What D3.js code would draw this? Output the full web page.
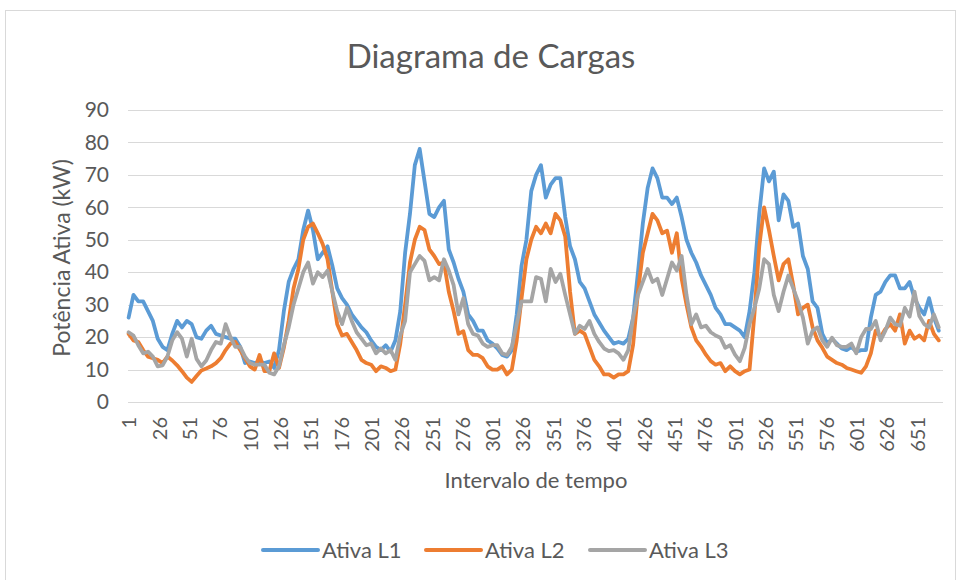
<!DOCTYPE html>
<html><head><meta charset="utf-8">
<script src="https://cdn.jsdelivr.net/npm/d3@7"></script>
<style>
body{margin:0;background:#fff;}
svg{display:block;font-family:Lato, "Open Sans", sans-serif;}
</style></head>
<body><svg id="c" width="960" height="580"></svg>
<script>
// Data: active power (kW) per phase, read every 4th 15-min interval (1,5,9,...)
const seriesNames = ["Ativa L1", "Ativa L2", "Ativa L3"];
const seriesColors = ["#5B9BD5", "#ED7D31", "#A5A5A5"];
const step = 4;
const ativaL1 = [26,33,31,31,28,25,19.5,17,16,21,25,23,25,24,20,19.5,22,23.5,21,20.5,20,19.5,19.5,17,12,12.5,12,12.5,12,12.5,10.5,16,
28,37,41,44,53,59,53,44,46,48,42,35,32,30,27,25,23,21.5,19,17,16,17.5,15.5,19,
28,46,58,73,78,68,58,57,60,62,47,43,38,34,27,25,22,22,19,18,16.5,14.5,14,16,
27,42,50,65,70,73,63,67,69,69,57,48,44,37,35,31,27,24.5,22,20,18,18.5,18,19.5,
26,40,55,66,72,69,63,63,61,63,57,50,46,43,39,36,33,29,27,24,24,23,22,20,
28,40,58,72,68,71,56,64,62,54,55,45,41,31,29,21,18,19.5,18,16.5,16,17,15.5,16,
16,26,33,34,37,39,39,35,35,37,32,29,27,32,26,22];
const ativaL2 = [21,19,18.5,16,14,13.5,13,12,14,12.8,11.3,9.5,7.5,6.2,8,9.7,10.3,11,12,13.5,16,18,18.5,16,13.5,11,10,14.5,9.5,9.5,15,10.5,
16.7,25,35,41,50,54,55,52,48.7,44,34,24,20.5,21,18.5,16,13,12,11.5,9.5,11,10.5,9.5,10,
18,30,43,50,54,53,47,45,42.5,43,34,28,21,21.8,16,14.5,14.5,13.5,11,10,10,11,8.5,10,
19,32,44,50,54,52,55,52,58,56,51,34,21,22,21,17,13,11,8.5,8.5,7.5,8.5,8.5,9.5,
17.7,34,46,52,58,56,52,52.8,46,52,38,30,23,19,17,14.6,12.6,11.5,12,9.5,11,9.5,8.5,9.5,
10,27,48,60,53,45,37.5,42.5,44,36,27,29,30,23,19,16.7,14,13,12,11.5,10.5,10,9.5,9,
11,15,22,20,22.5,24,22,27,18,22,19.5,20.5,19,25,21,19];
const ativaL3 = [21.5,20.5,17.5,15,15.5,14,11,11.3,14,19,21.5,19.5,14,19.5,13.3,11,12.8,16,18.5,18,24,20,17,17,14,12,11.5,11.5,11.5,9,8.5,11,
17.5,23,30,35,40,43,36.5,40,38.5,40.5,34,28,24,29,25,21.5,19.5,17.5,18,15,16.5,15,16,13,
20.5,25,40,42.5,45,43.5,37.5,38.5,37.5,44,40.5,36,27,32,24,21,20.5,18,17,17.5,17.5,15,14.5,17,
24,31,31,31,38.5,38,31,41,37,39.5,33,27,21,23.5,22.5,25,21,18.5,16.5,15.7,16,15,13,16,
26,33,37,41,37,38,33,38,43,40.5,45,33,24,27,23,23.5,21.5,20.5,19.8,16.7,17.5,14.6,12.6,16.7,
24,29,35,44,42.5,33,28,34,39,35,31,26,18,22,23,19,17,19.8,17.5,17,17,18,15,20,
22.5,22.5,25,19,22,26,24,23.5,29,26.3,34,26.5,24,23,27,23];
const yTicks = [0,10,20,30,40,50,60,70,80,90];
const xTickLabels = [1,26,51,76,101,126,151,176,201,226,251,276,301,326,351,376,401,426,451,476,501,526,551,576,601,626,651];

const svg = d3.select("#c");
const textColor = "#595959";
const gridColor = "#D9D9D9";

// chart border
svg.append("rect").attr("x",5.5).attr("y",10.5).attr("width",950).attr("height",590)
  .attr("fill","none").attr("stroke","#D9D9D9").attr("stroke-width",1);

const x = d3.scaleLinear().domain([0.5, 672.5]).range([128, 943]);
const y = d3.scaleLinear().domain([0, 90]).range([402, 110]);

// gridlines
svg.append("g").selectAll("line").data(yTicks).join("line")
  .attr("x1",128).attr("x2",943)
  .attr("y1",d=>Math.round(y(d))+0.5).attr("y2",d=>Math.round(y(d))+0.5)
  .attr("stroke",gridColor).attr("stroke-width",1);

// y axis labels
const yAxis = d3.axisLeft(y).tickValues(yTicks).tickSize(0).tickPadding(0);
const gy = svg.append("g").attr("transform","translate(109,0)").call(yAxis);
gy.select(".domain").remove();
gy.selectAll("text").attr("fill",textColor).style("font-size","21px").style("font-family","Lato");

// x axis labels
const xAxis = d3.axisBottom(x).tickValues(xTickLabels).tickSize(0).tickFormat(d3.format("d"));
const gx = svg.append("g").attr("transform","translate(0,402)").call(xAxis);
gx.select(".domain").remove();
gx.selectAll("text").attr("fill",textColor).style("font-size","20px").style("font-family","Lato")
  .attr("transform","rotate(-90)").attr("text-anchor","end")
  .attr("x",-15).attr("y",0).attr("dy","0.36em");

// series
const allSeries = [ativaL1, ativaL2, ativaL3];
const line = d3.line().x((d,i)=>x(1+i*step)).y(d=>y(d));
allSeries.forEach((s,k)=>{
  svg.append("path").datum(s).attr("d",line)
    .attr("fill","none").attr("stroke",seriesColors[k]).attr("stroke-width",3.8)
    .attr("stroke-linejoin","round").attr("stroke-linecap","round");
});

// title
svg.append("text").attr("x",491).attr("y",68).attr("text-anchor","middle")
  .attr("fill",textColor).style("font-size","33px").text("Diagrama de Cargas");

// axis titles
svg.append("text").attr("transform","translate(70,258) rotate(-90)").attr("text-anchor","middle")
  .attr("fill",textColor).style("font-size","23px").text("Potência Ativa (kW)");
svg.append("text").attr("x",536).attr("y",488).attr("text-anchor","middle")
  .attr("fill",textColor).style("font-size","22px").text("Intervalo de tempo");

// legend
const legendX = [263, 426, 590];
const lg = svg.append("g");
seriesNames.forEach((n,k)=>{
  lg.append("line").attr("x1",legendX[k]).attr("x2",legendX[k]+55).attr("y1",550).attr("y2",550)
    .attr("stroke",seriesColors[k]).attr("stroke-width",4).attr("stroke-linecap","round");
  lg.append("text").attr("x",legendX[k]+59).attr("y",558).attr("fill",textColor)
    .style("font-size","22px").text(n);
});
</script></body></html>
